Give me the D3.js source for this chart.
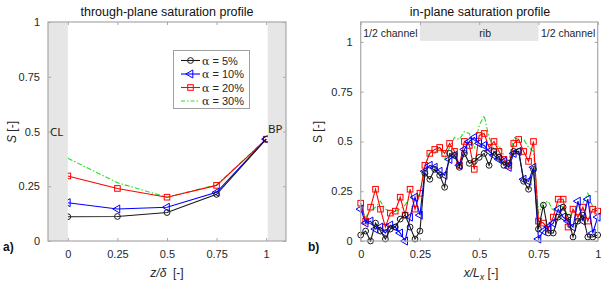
<!DOCTYPE html>
<html><head><meta charset="utf-8">
<script src="https://cdn.jsdelivr.net/npm/d3@7"></script>
<style>
body{margin:0;background:#fff;}
svg{display:block;font-family:"Liberation Sans",Arial,sans-serif;}
</style></head><body>
<svg id="c" width="603" height="284"></svg>
<script>
// ---- Data ----
const seriesNames = ["α = 5%", "α = 10%", "α = 20%", "α = 30%"];
const seriesColors = ["#1a1a1a", "#0000ff", "#ff0000", "#22e022"];
const seriesMarkers = ["circle", "triangleLeft", "square", "none"];

// panel a: through-plane
const zPos = [0, 0.25, 0.5, 0.75, 1];
const tp5  = [0.111, 0.112, 0.130, 0.213, 0.465];
const tp10 = [0.175, 0.146, 0.154, 0.222, 0.465];
const tp20 = [0.297, 0.240, 0.200, 0.254, 0.465];
const tp30 = [0.378, 0.266, 0.200, 0.256, 0.465];
const xTicksA = [0, 0.25, 0.5, 0.75, 1];
const xTickLabelsA = ["0", "0.25", "0.5", "0.75", "1"];
const yTicks = [0, 0.25, 0.5, 0.75, 1];
const yTickLabels = ["0", "0.25", "0.5", "0.75", "1"];

// panel b: in-plane (49 positions, x = i/48)
const ip5  = [0.03,0.05,0.00,0.09,0.05,0.01,0.06,0.07,0.11,0.13,0.07,0.01,0.05,
              0.34,0.31,0.36,0.33,0.27,0.44,0.43,0.37,0.44,0.39,0.40,0.42,0.44,0.38,0.45,0.42,0.38,0.39,0.45,0.45,0.30,0.26,0.36,
              0.06,0.18,0.04,0.04,0.12,0.17,0.12,0.02,0.10,0.13,0.02,0.02,0.03];
const ip10 = [0.16,0.09,0.10,0.06,0.07,0.04,0.08,0.07,0.04,0.00,0.12,0.22,0.13,
              0.35,0.38,0.37,0.35,0.33,0.41,0.43,0.38,0.46,0.50,0.52,0.49,0.48,0.45,0.43,0.41,0.40,0.37,0.44,0.45,0.31,0.30,0.37,
              0.01,0.05,0.07,0.09,0.16,0.12,0.10,0.07,0.20,0.10,0.21,0.04,0.12];
const ip20 = [0.19,0.10,0.17,0.26,0.16,0.07,0.14,0.15,0.22,0.13,0.26,0.16,0.24,
              0.38,0.44,0.46,0.47,0.44,0.49,0.45,0.38,0.50,0.48,0.36,0.53,0.54,0.47,0.50,0.45,0.41,0.38,0.49,0.51,0.45,0.40,0.50,
              0.10,0.09,0.06,0.12,0.21,0.21,0.07,0.16,0.12,0.17,0.10,0.16,0.15];
const ip30 = [0.17,0.12,0.15,0.17,0.20,0.16,0.15,0.15,0.16,0.18,0.22,0.20,0.24,
              0.37,0.45,0.44,0.47,0.41,0.47,0.52,0.51,0.55,0.54,0.47,0.58,0.63,0.52,0.46,0.48,0.43,0.40,0.52,0.51,0.51,0.47,0.45,
              0.14,0.19,0.20,0.15,0.18,0.17,0.13,0.14,0.18,0.19,0.24,0.17,0.16];
const xPosB = ip5.map((_, i) => i / 48);
const xTicksB = [0, 0.25, 0.5, 0.75, 1];
const xTickLabelsB = ["0", "0.25", "0.5", "0.75", "1"];
const bandLabels = ["1/2 channel", "rib", "1/2 channel"];
const bandCenters = [0.125, 0.5, 0.875];

// ---- Drawing ----
const svg = d3.select("#c");
const axisCol = "#a8a8a8", textCol = "#262626";

function marker(g, type, x, y, col) {
  if (type === "circle") {
    g.append("circle").attr("cx", x).attr("cy", y).attr("r", 2.9)
      .attr("fill", "none").attr("stroke", col).attr("stroke-width", 1);
  } else if (type === "square") {
    g.append("rect").attr("x", x - 2.8).attr("y", y - 2.8).attr("width", 5.6).attr("height", 5.6)
      .attr("fill", "none").attr("stroke", col).attr("stroke-width", 1);
  } else if (type === "triangleLeft") {
    g.append("path").attr("d", d3.symbol(d3.symbolTriangle, 28)())
      .attr("transform", `translate(${x},${y}) rotate(-90)`)
      .attr("fill", "none").attr("stroke", col).attr("stroke-width", 1);
  }
}

function drawSeries(g, xs, ys, sx, sy, k) {
  const col = seriesColors[k];
  const line = d3.line().x((d, i) => sx(xs[i])).y(d => sy(d));
  g.append("path").datum(ys).attr("d", line).attr("fill", "none")
    .attr("stroke", col).attr("stroke-width", 1.1)
    .attr("stroke-dasharray", k === 3 ? "5,2,1.5,2" : null);
  if (seriesMarkers[k] !== "none") ys.forEach((v, i) => marker(g, seriesMarkers[k], sx(xs[i]), sy(v), col));
}

function frame(g, sx, sy, xTicks, xLabels, L, R, T, B) {
  const ax = d3.axisBottom(sx).tickValues(xTicks).tickFormat((d, i) => xLabels[i]).tickSizeInner(-3).tickSizeOuter(0).tickPadding(9);
  const ay = d3.axisLeft(sy).tickValues(yTicks).tickFormat((d, i) => yTickLabels[i]).tickSizeInner(-3).tickSizeOuter(0).tickPadding(8);
  const gx = g.append("g").attr("transform", `translate(0,${B})`).call(ax);
  const gy = g.append("g").attr("transform", `translate(${L},0)`).call(ay);
  const gxt = g.append("g").attr("transform", `translate(0,${T})`).call(d3.axisTop(sx).tickValues(xTicks).tickFormat("").tickSizeInner(-3).tickSizeOuter(0));
  const gyr = g.append("g").attr("transform", `translate(${R},0)`).call(d3.axisRight(sy).tickValues(yTicks).tickFormat("").tickSizeInner(-3).tickSizeOuter(0));
  [gx, gy, gxt, gyr].forEach(a => {
    a.select(".domain").remove();
    a.selectAll("line").attr("stroke", axisCol);
    a.selectAll("text").attr("fill", textCol).attr("font-size", 11);
  });
  g.append("rect").attr("x", L).attr("y", T).attr("width", R - L).attr("height", B - T)
    .attr("fill", "none").attr("stroke", axisCol).attr("stroke-width", 1.2);
}

// Panel a
{
  const L = 48, R = 286, T = 22, B = 241;
  const sx = d3.scaleLinear().domain([-0.1, 1.1]).range([L, R]);
  const sy = d3.scaleLinear().domain([0, 1]).range([B, T]);
  const g = svg.append("g");
  const series = [tp5, tp10, tp20, tp30];
  [3, 2, 1, 0].forEach(k => drawSeries(g, zPos, series[k], sx, sy, k));
  g.append("rect").attr("x", sx(-0.1)).attr("y", T).attr("width", sx(0) - sx(-0.1)).attr("height", B - T).attr("fill", "#e6e6e6");
  g.append("rect").attr("x", sx(1) + 1.5).attr("y", T).attr("width", sx(1.1) - sx(1) - 1.5).attr("height", B - T).attr("fill", "#e6e6e6");
  frame(g, sx, sy, xTicksA, xTickLabelsA, L, R, T, B);
  g.append("text").attr("x", 50).attr("y", sy(0.5) + 4).attr("font-size", 11.5).attr("fill", "#222").attr("font-family", "'Noto Sans','Open Sans',sans-serif").text("CL");
  g.append("text").attr("x", 268).attr("y", sy(0.5) + 1).attr("font-size", 11.5).attr("fill", "#222").attr("font-family", "'Noto Sans','Open Sans',sans-serif").text("BP");
  // legend
  const lg = g.append("g");
  lg.append("rect").attr("x", 173.5).attr("y", 50.5).attr("width", 76).attr("height", 58).attr("fill", "#fff").attr("stroke", "#a0a0a0").attr("stroke-width", 1);
  const ly = [60.5, 74, 87.5, 101];
  seriesNames.forEach((nm, k) => {
    lg.append("line").attr("x1", 181).attr("x2", 200).attr("y1", ly[k]).attr("y2", ly[k])
      .attr("stroke", seriesColors[k]).attr("stroke-width", 1.1)
      .attr("stroke-dasharray", k === 3 ? "4,2,1.5,2" : null);
    marker(lg, seriesMarkers[k], 190.5, ly[k], seriesColors[k]);
    const t = lg.append("text").attr("x", 202).attr("y", ly[k] + 4).attr("font-size", 11).attr("fill", textCol);
    t.append("tspan").attr("font-family", "'DejaVu Serif','Liberation Serif',serif").attr("font-size", 11).text(nm.slice(0, 1));
    t.append("tspan").text(nm.slice(1));
  });
  svg.append("text").attr("x", 167).attr("y", 16).attr("text-anchor", "middle").attr("font-size", 12.5).attr("fill", "#111").text("through-plane saturation profile");
  const xl = svg.append("text").attr("x", 167).attr("y", 277).attr("text-anchor", "middle").attr("font-size", 12).attr("fill", textCol);
  xl.append("tspan").attr("font-style", "italic").text("z/δ");
  xl.append("tspan").text("  [-]").attr("xml:space", "preserve");
  const yl = svg.append("text").attr("transform", "translate(16,132) rotate(-90)").attr("text-anchor", "middle").attr("font-size", 12).attr("fill", textCol);
  yl.append("tspan").attr("font-style", "italic").text("S");
  yl.append("tspan").text(" [-]");
  svg.append("text").attr("x", 3).attr("y", 251).attr("font-size", 12).attr("font-weight", "bold").attr("fill", "#111").text("a)");
}

// Panel b
{
  const L = 360.7, R = 597.7, T = 22, B = 241;
  const sx = d3.scaleLinear().domain([0, 1]).range([L, R]);
  const sy = d3.scaleLinear().domain([0, 1.1]).range([B, T]);
  const g = svg.append("g");
  g.append("rect").attr("x", sx(0.25)).attr("y", T).attr("width", sx(0.75) - sx(0.25)).attr("height", sy(1.0) - T - 1).attr("fill", "#e6e6e6");
  bandLabels.forEach((t, i) => g.append("text").attr("x", sx(bandCenters[i]) + (i === 1 ? 6 : 0)).attr("y", 37)
    .attr("text-anchor", "middle").attr("font-size", 10.5).attr("fill", textCol).text(t));
  const series = [ip5, ip10, ip20, ip30];
  [3, 2, 1, 0].forEach(k => drawSeries(g, xPosB, series[k], sx, sy, k));
  frame(g, sx, sy, xTicksB, xTickLabelsB, L, R, T, B);
  svg.append("text").attr("x", 480).attr("y", 16).attr("text-anchor", "middle").attr("font-size", 12.5).attr("fill", "#111").text("in-plane saturation profile");
  const xl = svg.append("text").attr("x", 481).attr("y", 277).attr("text-anchor", "middle").attr("font-size", 12).attr("fill", textCol);
  xl.append("tspan").attr("font-style", "italic").text("x/L");
  xl.append("tspan").attr("font-style", "italic").attr("font-size", 9).attr("dy", 3).text("x");
  xl.append("tspan").attr("dy", -3).text(" [-]");
  const yl = svg.append("text").attr("transform", "translate(322,132) rotate(-90)").attr("text-anchor", "middle").attr("font-size", 12).attr("fill", textCol);
  yl.append("tspan").text("S [-]");
  svg.append("text").attr("x", 308).attr("y", 251).attr("font-size", 12).attr("font-weight", "bold").attr("fill", "#111").text("b)");
}
</script>
</body></html>
